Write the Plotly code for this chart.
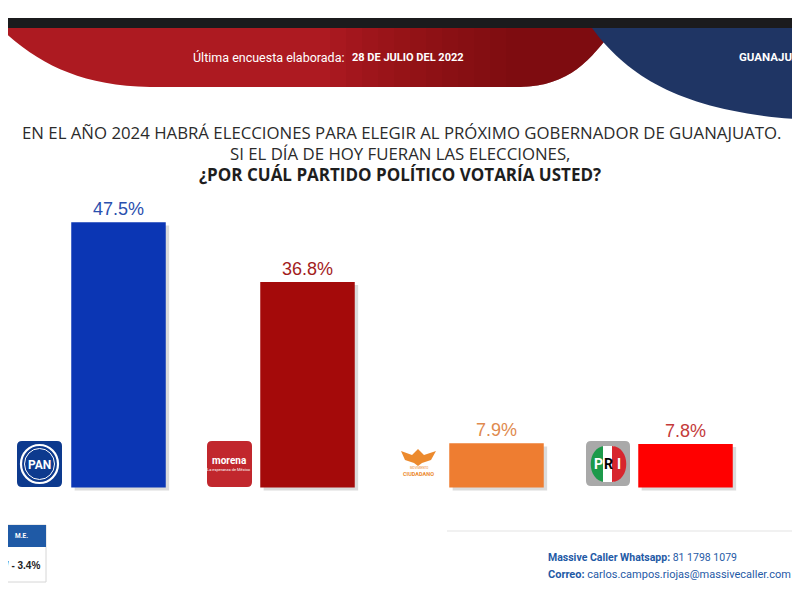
import plotly.graph_objects as go

# ---- data ----
parties = ["PAN", "MORENA", "MC", "PRI"]
values = [47.5, 36.8, 7.9, 7.8]
bar_colors = ["#0b36b4", "#a40a0a", "#ee7d31", "#ff0000"]
label_colors = ["#2a4fae", "#a31c1c", "#e08a4e", "#c43a3a"]

# page has an 8px body margin: figure origin sits at window (8, 8)
OFF = 8
W, H = 800, 599
L, R, T, B = 16, 28, 192, 114
pw, ph = W - L - R, H - T - B


def px(x):
    return (x - OFF - L) / pw


def py(y):
    return (H - B - (y - OFF)) / ph


fig = go.Figure()

# soft shadow behind bars
fig.add_trace(go.Bar(
    x=parties, y=values, base=-0.55,
    width=0.5, offset=-0.25 + 0.018,
    marker=dict(color="rgba(90,90,90,0.22)", line=dict(width=0)),
    hoverinfo="skip", showlegend=False,
))
fig.add_trace(go.Bar(
    x=parties, y=values, width=0.5,
    marker=dict(color=bar_colors, line=dict(width=0)),
    text=[f"{v:.1f}%" for v in values], textposition="outside",
    textfont=dict(family="Liberation Sans, Arial", size=18, color=label_colors),
    cliponaxis=False, showlegend=False,
))

shapes = []
ann = []


def txt(x, y, text, font, xanchor="center"):
    ann.append(dict(x=px(x), y=py(y), xref="paper", yref="paper",
                    xanchor=xanchor, yanchor="middle", showarrow=False,
                    text=text, font=font))


# ---- header ----
shapes.append(dict(type="rect", xref="paper", yref="paper",
                   x0=px(-5), x1=px(815), y0=py(28), y1=py(18),
                   fillcolor="#1b1b1d", line=dict(width=0), layer="above"))
red_path = (f"M {px(-5)},{py(28)} L {px(0)},{py(28)} "
            f"C {px(40)},{py(65)} {px(80)},{py(85)} {px(150)},{py(87)} "
            f"L {px(520)},{py(87)} "
            f"C {px(570)},{py(86)} {px(590)},{py(60)} {px(615)},{py(28)} Z")
shapes.append(dict(type="path", xref="paper", yref="paper", path=red_path,
                   fillcolor="#ad1a21", line=dict(width=0), layer="above"))
# gradual darkening toward the right of the red band
for xs in range(330, 520, 16):
    strip = (f"M {px(xs)},{py(28)} L {px(xs)},{py(87)} L {px(520)},{py(87)} "
             f"C {px(570)},{py(86)} {px(590)},{py(60)} {px(615)},{py(28)} Z")
    shapes.append(dict(type="path", xref="paper", yref="paper", path=strip,
                       fillcolor="rgba(60,8,8,0.045)", line=dict(width=0),
                       layer="above"))
blue_path = (f"M {px(592)},{py(28)} "
             f"C {px(630)},{py(80)} {px(690)},{py(115)} {px(815)},{py(120)} "
             f"L {px(815)},{py(28)} Z")
shapes.append(dict(type="path", xref="paper", yref="paper", path=blue_path,
                   fillcolor="#1f3564", line=dict(width=0), layer="above"))

txt(346, 57, "Última encuesta elaborada:",
    dict(family="Roboto", size=12.5, color="white"), "right")
txt(350, 57, "<b>28 DE JULIO DEL 2022</b>",
    dict(family="Roboto", size=11, color="white"), "left")
txt(737, 57, "<b>GUANAJUATO</b>",
    dict(family="Roboto", size=11.5, color="white"), "left")

# ---- title ----
title_font = dict(family="Open Sans", size=16.8, color="#2b2b2b")
txt(401, 133, "EN EL AÑO 2024 HABRÁ ELECCIONES PARA ELEGIR AL PRÓXIMO GOBERNADOR DE GUANAJUATO.",
    title_font)
txt(400, 153, "SI EL DÍA DE HOY FUERAN LAS ELECCIONES,", title_font)
txt(400, 174, "<b>¿POR CUÁL PARTIDO POLÍTICO VOTARÍA USTED?</b>",
    dict(family="Open Sans", size=17, color="#1e1e1e"))


def rrect(x0, y0, x1, y1, r):
    return (f"M {px(x0 + r)},{py(y0)} L {px(x1 - r)},{py(y0)} "
            f"Q {px(x1)},{py(y0)} {px(x1)},{py(y0 + r)} "
            f"L {px(x1)},{py(y1 - r)} Q {px(x1)},{py(y1)} {px(x1 - r)},{py(y1)} "
            f"L {px(x0 + r)},{py(y1)} Q {px(x0)},{py(y1)} {px(x0)},{py(y1 - r)} "
            f"L {px(x0)},{py(y0 + r)} Q {px(x0)},{py(y0)} {px(x0 + r)},{py(y0)} Z")


# ---- PAN logo ----
shapes.append(dict(type="path", xref="paper", yref="paper",
                   path=rrect(17, 441, 62, 487, 5), fillcolor="#0d3a8e",
                   line=dict(width=0)))
shapes.append(dict(type="circle", xref="paper", yref="paper",
                   x0=px(21), x1=px(58), y0=py(445), y1=py(483),
                   fillcolor="rgba(0,0,0,0)", line=dict(color="white", width=2.2)))
shapes.append(dict(type="circle", xref="paper", yref="paper",
                   x0=px(24.5), x1=px(54.5), y0=py(448.5), y1=py(479.5),
                   fillcolor="rgba(0,0,0,0)", line=dict(color="white", width=1)))
txt(39.5, 464.5, "<b>PAN</b>", dict(family="Roboto", size=12, color="white"))

# ---- Morena logo ----
shapes.append(dict(type="path", xref="paper", yref="paper",
                   path=rrect(207, 441, 252, 487, 5), fillcolor="#c1272d",
                   line=dict(width=0)))
txt(229.5, 460, "<b>morena</b>", dict(family="Roboto", size=10, color="white"))
txt(229.5, 469, "La esperanza de México", dict(family="Roboto", size=4, color="white"))

# ---- MC logo ----
eagle = (f"M {px(401)},{py(451)} L {px(412)},{py(455)} L {px(418)},{py(449)} "
         f"L {px(424)},{py(455)} L {px(436)},{py(451)} L {px(431)},{py(460)} "
         f"L {px(422)},{py(463)} L {px(418)},{py(466)} L {px(414)},{py(463)} "
         f"L {px(405)},{py(460)} Z")
shapes.append(dict(type="path", xref="paper", yref="paper", path=eagle,
                   fillcolor="#ec8a2e", line=dict(width=0)))
txt(418.5, 468, "MOVIMIENTO", dict(family="Roboto", size=3, color="#ec8a2e"))
txt(418.5, 473.5, "<b>CIUDADANO</b>", dict(family="Roboto", size=5.5, color="#ec8a2e"))

# ---- PRI logo ----
shapes.append(dict(type="path", xref="paper", yref="paper",
                   path=rrect(586, 441, 630, 486, 5), fillcolor="#a9a9a9",
                   line=dict(width=0)))
left_half = (f"M {px(605)},{py(446)} C {px(586)},{py(447)} {px(586)},{py(481)} "
             f"{px(605)},{py(482)} Z")
right_half = (f"M {px(612)},{py(446)} C {px(631)},{py(447)} {px(631)},{py(481)} "
              f"{px(612)},{py(482)} Z")
shapes.append(dict(type="path", xref="paper", yref="paper", path=left_half,
                   fillcolor="#1c9a4a", line=dict(width=0)))
shapes.append(dict(type="rect", xref="paper", yref="paper", x0=px(603), x1=px(614),
                   y0=py(482), y1=py(446), fillcolor="white", line=dict(width=0)))
shapes.append(dict(type="path", xref="paper", yref="paper", path=right_half,
                   fillcolor="#d7262e", line=dict(width=0)))
for lx, letter, col in [(598, "P", "white"), (608.5, "R", "black"), (619, "I", "white")]:
    txt(lx, 464, f"<b>{letter}</b>", dict(family="Roboto", size=14, color=col))

# ---- separator line ----
shapes.append(dict(type="line", xref="paper", yref="paper", x0=px(447), x1=px(815),
                   y0=py(531), y1=py(531), line=dict(color="#e3e3e3", width=1.2)))

# ---- M.E. box ----
shapes.append(dict(type="rect", xref="paper", yref="paper", x0=px(-5), x1=px(46),
                   y0=py(582), y1=py(525), fillcolor="white",
                   line=dict(color="#d6d6d6", width=1)))
shapes.append(dict(type="rect", xref="paper", yref="paper", x0=px(-5), x1=px(46),
                   y0=py(547), y1=py(525), fillcolor="#1f5aa6", line=dict(width=0)))
txt(21, 536, "<b>M.E.</b>", dict(family="Roboto", size=6.5, color="white"))
txt(42, 565, "<b>+/ - 3.4%</b>", dict(family="Liberation Sans", size=10, color="#222222"),
    "right")

# ---- footer ----
txt(546, 557, "<b>Massive Caller Whatsapp:</b> 81 1798 1079",
    dict(family="Roboto", size=10.5, color="#1f5aa6"), "left")
txt(546, 574, "<b>Correo:</b> carlos.campos.riojas@massivecaller.com",
    dict(family="Roboto", size=11, color="#1f5aa6"), "left")

fig.update_layout(
    width=W, height=H,
    margin=dict(l=L, r=R, t=T, b=B, pad=0),
    paper_bgcolor="white", plot_bgcolor="white",
    barmode="overlay", bargap=0.5,
    xaxis=dict(visible=False, range=[-0.5, 3.5], type="category"),
    yaxis=dict(visible=False, range=[-1, 51.5]),
    shapes=shapes, annotations=ann,
    showlegend=False,
)

fig.write_html("out.html")
